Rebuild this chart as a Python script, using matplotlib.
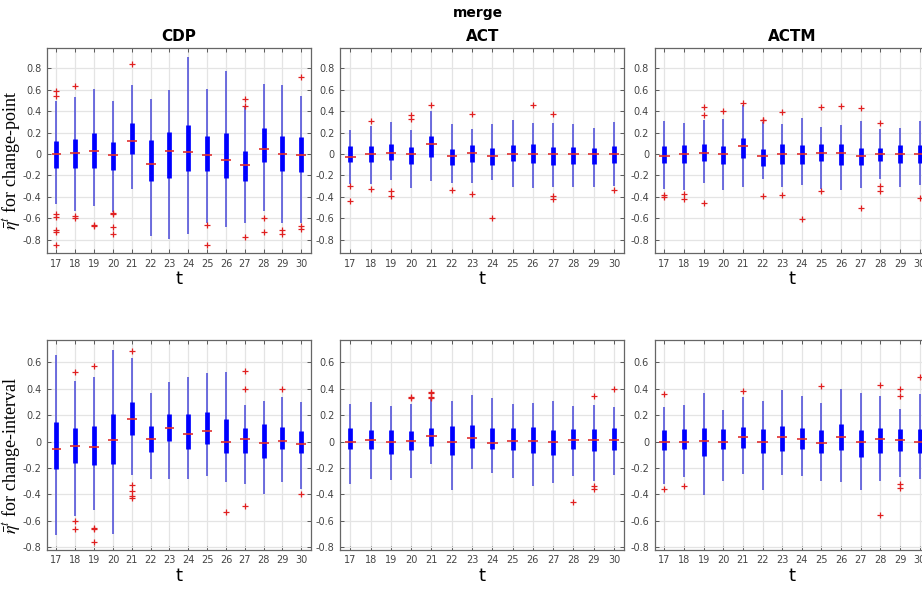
import numpy as np
import matplotlib
matplotlib.use("Agg")
import matplotlib.pyplot as plt

plt.rcParams['mathtext.fontset'] = 'stix'

t = list(range(17, 31))

# rows: (lower whisker, q1, median, q3, upper whisker) for t = 17..30
cdp_point_box = [
    (-0.47, -0.13, 0.00, 0.125, 0.49),
    (-0.53, -0.13, 0.01, 0.14, 0.53),
    (-0.49, -0.13, 0.025, 0.20, 0.61),
    (-0.54, -0.145, -0.01, 0.11, 0.49),
    (-0.33, 0.00, 0.125, 0.29, 0.645),
    (-0.77, -0.25, -0.09, 0.13, 0.51),
    (-0.79, -0.22, 0.025, 0.205, 0.60),
    (-0.75, -0.16, 0.02, 0.27, 0.90),
    (-0.64, -0.155, -0.01, 0.17, 0.61),
    (-0.68, -0.22, -0.06, 0.195, 0.77),
    (-0.64, -0.25, -0.105, 0.025, 0.44),
    (-0.53, -0.075, 0.045, 0.245, 0.65),
    (-0.64, -0.155, 0.00, 0.17, 0.64),
    (-0.64, -0.165, -0.01, 0.155, 0.545),
]
cdp_point_out = [
    [0.59, 0.54, -0.56, -0.59, -0.71, -0.73, -0.85],
    [0.63, -0.575, -0.60],
    [-0.665, -0.67],
    [-0.55, -0.56, -0.685, -0.75],
    [0.84],
    [],
    [],
    [],
    [-0.66, -0.85],
    [],
    [0.515, 0.45, -0.775],
    [-0.595, -0.73],
    [-0.71, -0.75],
    [0.72, -0.67, -0.70],
]

act_point_box = [
    (-0.28, -0.075, -0.03, 0.07, 0.22),
    (-0.28, -0.075, -0.005, 0.07, 0.26),
    (-0.24, -0.055, 0.005, 0.09, 0.30),
    (-0.32, -0.09, -0.005, 0.065, 0.22),
    (-0.25, -0.025, 0.09, 0.165, 0.40),
    (-0.27, -0.10, -0.015, 0.05, 0.28),
    (-0.27, -0.075, 0.01, 0.08, 0.23),
    (-0.24, -0.10, -0.02, 0.055, 0.28),
    (-0.31, -0.065, 0.00, 0.08, 0.32),
    (-0.32, -0.085, -0.005, 0.09, 0.29),
    (-0.31, -0.105, -0.005, 0.065, 0.29),
    (-0.31, -0.09, -0.005, 0.065, 0.28),
    (-0.31, -0.09, -0.005, 0.06, 0.24),
    (-0.30, -0.08, 0.00, 0.07, 0.30),
]
act_point_out = [
    [-0.30, -0.44],
    [0.31, -0.33],
    [-0.35, -0.39],
    [0.36, 0.33],
    [0.46],
    [-0.335],
    [0.37, -0.375],
    [-0.595],
    [],
    [0.46],
    [0.375, -0.39, -0.42],
    [],
    [],
    [-0.335],
]

actm_point_box = [
    (-0.33, -0.085, -0.02, 0.07, 0.31),
    (-0.34, -0.085, -0.005, 0.08, 0.29),
    (-0.27, -0.07, 0.01, 0.095, 0.32),
    (-0.34, -0.095, 0.00, 0.075, 0.33),
    (-0.31, -0.035, 0.07, 0.15, 0.46),
    (-0.23, -0.11, -0.015, 0.05, 0.30),
    (-0.31, -0.095, 0.00, 0.09, 0.28),
    (-0.29, -0.095, -0.005, 0.08, 0.335),
    (-0.33, -0.07, 0.005, 0.09, 0.25),
    (-0.335, -0.105, 0.01, 0.095, 0.27),
    (-0.32, -0.10, -0.015, 0.06, 0.31),
    (-0.23, -0.065, -0.005, 0.055, 0.23),
    (-0.31, -0.085, -0.005, 0.08, 0.245),
    (-0.29, -0.085, -0.005, 0.08, 0.31),
]
actm_point_out = [
    [-0.38, -0.40],
    [-0.37, -0.42],
    [0.44, 0.36, -0.46],
    [0.40],
    [0.475],
    [0.32, 0.315, -0.39],
    [0.395, -0.38],
    [-0.605],
    [0.435, -0.35],
    [0.445],
    [0.43, -0.50],
    [0.285, -0.30, -0.35],
    [],
    [-0.41],
]

cdp_interval_box = [
    (-0.707, -0.205, -0.053, 0.15, 0.655),
    (-0.56, -0.162, -0.033, 0.10, 0.46),
    (-0.515, -0.175, -0.043, 0.12, 0.49),
    (-0.70, -0.167, 0.013, 0.21, 0.695),
    (-0.256, 0.05, 0.172, 0.297, 0.63),
    (-0.28, -0.08, 0.02, 0.12, 0.37),
    (-0.28, 0.005, 0.10, 0.205, 0.45),
    (-0.285, -0.06, 0.058, 0.205, 0.49),
    (-0.26, -0.022, 0.08, 0.22, 0.52),
    (-0.307, -0.09, 0.00, 0.17, 0.527),
    (-0.32, -0.09, 0.023, 0.104, 0.28),
    (-0.395, -0.125, -0.01, 0.13, 0.31),
    (-0.307, -0.058, 0.008, 0.11, 0.34),
    (-0.36, -0.09, -0.018, 0.083, 0.297),
]
cdp_interval_out = [
    [],
    [0.53, -0.60, -0.66],
    [0.57, -0.655, -0.66, -0.76],
    [],
    [0.687, -0.33, -0.375, -0.415, -0.425],
    [],
    [],
    [],
    [],
    [-0.537],
    [0.535, 0.40, -0.49],
    [],
    [0.395],
    [-0.40],
]

act_interval_box = [
    (-0.32, -0.06, -0.005, 0.10, 0.285),
    (-0.28, -0.06, 0.01, 0.09, 0.30),
    (-0.29, -0.095, 0.00, 0.09, 0.27),
    (-0.275, -0.065, 0.005, 0.083, 0.285),
    (-0.17, -0.03, 0.04, 0.10, 0.32),
    (-0.365, -0.10, -0.003, 0.12, 0.31),
    (-0.205, -0.05, 0.025, 0.125, 0.355),
    (-0.24, -0.055, -0.01, 0.10, 0.33),
    (-0.275, -0.065, 0.005, 0.10, 0.285),
    (-0.34, -0.085, 0.008, 0.11, 0.29),
    (-0.315, -0.10, -0.005, 0.085, 0.31),
    (-0.26, -0.06, 0.015, 0.095, 0.27),
    (-0.295, -0.068, 0.013, 0.095, 0.275),
    (-0.255, -0.065, 0.013, 0.10, 0.26),
]
act_interval_out = [
    [],
    [],
    [],
    [0.34, 0.33],
    [0.375, 0.365, 0.34, 0.33],
    [],
    [],
    [],
    [],
    [],
    [],
    [-0.457],
    [0.343, -0.34, -0.36],
    [0.40],
]

actm_interval_box = [
    (-0.32, -0.065, 0.00, 0.09, 0.26),
    (-0.27, -0.055, 0.00, 0.095, 0.28),
    (-0.405, -0.11, 0.008, 0.10, 0.365),
    (-0.30, -0.055, 0.00, 0.095, 0.24),
    (-0.245, -0.05, 0.035, 0.11, 0.335),
    (-0.365, -0.09, 0.00, 0.095, 0.31),
    (-0.25, -0.075, 0.035, 0.115, 0.39),
    (-0.26, -0.055, 0.02, 0.105, 0.345),
    (-0.30, -0.085, -0.01, 0.085, 0.295),
    (-0.305, -0.065, 0.035, 0.13, 0.395),
    (-0.365, -0.12, 0.00, 0.085, 0.37),
    (-0.30, -0.085, 0.02, 0.10, 0.345),
    (-0.27, -0.07, 0.015, 0.095, 0.25),
    (-0.28, -0.09, 0.00, 0.095, 0.36),
]
actm_interval_out = [
    [0.36, -0.36],
    [-0.34],
    [],
    [],
    [0.385],
    [],
    [],
    [],
    [0.42],
    [],
    [],
    [0.425, -0.555],
    [0.40, 0.345, -0.32, -0.35],
    [0.487],
]

titles = ['CDP', 'ACT', 'ACTM']
ylabels = [r'$\bar{\eta}^t$ for change-point', r'$\bar{\eta}^t$ for change-interval']
panels = [
    [(cdp_point_box, cdp_point_out), (act_point_box, act_point_out), (actm_point_box, actm_point_out)],
    [(cdp_interval_box, cdp_interval_out), (act_interval_box, act_interval_out),
     (actm_interval_box, actm_interval_out)],
]

fig = plt.figure(figsize=(9.22, 5.90), dpi=100)
fig.text(0.518, 0.978, 'merge', ha='center', va='center', fontsize=10, fontweight='bold')

cols = [(0.051, 0.286), (0.369, 0.308), (0.710, 0.298)]
rows = [(0.571, 0.347, (-0.925, 0.985), np.arange(-0.8, 0.81, 0.2)),
        (0.068, 0.356, (-0.82, 0.77), np.arange(-0.8, 0.61, 0.2))]

for r, (bottom, height, ylim, yt) in enumerate(rows):
    for c, (left, width) in enumerate(cols):
        ax = fig.add_axes([left, bottom, width, height])
        box, out = panels[r][c]
        arr = np.array(box)
        ax.vlines(t, arr[:, 0], arr[:, 4], color='#4848d8', lw=1.1, zorder=2)
        ax.vlines(t, arr[:, 1], arr[:, 3], color='#0000ff', lw=3.4, zorder=3)
        ax.hlines(arr[:, 2], np.array(t) - 0.26, np.array(t) + 0.26, color='#e03030', lw=1.2, zorder=4)
        for x, pts in zip(t, out):
            if pts:
                ax.plot([x] * len(pts), pts, '+', color='#e02020', ms=5, mew=0.9, zorder=5)
        ax.set_xlim(16.5, 30.5)
        ax.set_ylim(*ylim)
        ax.set_xticks(t)
        ax.set_yticks(yt)
        ax.set_yticklabels(['0' if abs(v) < 1e-9 else '%g' % round(v, 1) for v in yt])
        ax.grid(True, color='#e4e4e4', lw=0.9)
        ax.set_axisbelow(True)
        ax.tick_params(direction='in', length=3, width=0.6, labelsize=7, colors='#444444',
                       top=True, right=True, pad=4)
        for s in ax.spines.values():
            s.set_color('#666666')
            s.set_linewidth(0.9)
        ax.set_xlabel('t', fontsize=13, labelpad=1)
        if r == 0:
            ax.set_title(titles[c], fontsize=11, fontweight='bold', pad=5)
        if c == 0:
            ax.set_ylabel(ylabels[r], fontsize=13, family='Liberation Serif')
            ax.yaxis.set_label_coords(-0.095, 0.45)

fig.savefig('out.png', dpi=100)
